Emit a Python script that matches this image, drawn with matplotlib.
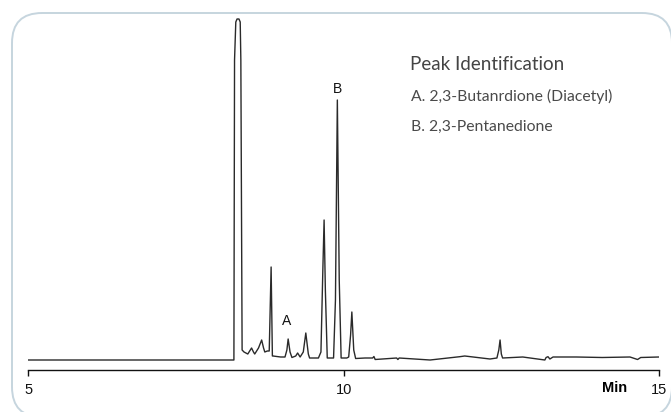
import matplotlib
matplotlib.use("Agg")
import matplotlib.pyplot as plt
from matplotlib.patches import FancyBboxPatch
from matplotlib.transforms import IdentityTransform, blended_transform_factory

# chromatogram trace (time in min, signal in arbitrary units)
times = [5.00, 8.26, 8.27, 8.29, 8.31, 8.34, 8.36, 8.37, 8.39, 8.42,
         8.48, 8.51, 8.54, 8.57, 8.59, 8.65, 8.70, 8.73, 8.75, 8.79,
         8.82, 8.85, 8.87, 8.88, 9.00, 9.07, 9.10, 9.12, 9.15, 9.18,
         9.24, 9.27, 9.31, 9.36, 9.40, 9.44, 9.46, 9.60, 9.64, 9.67,
         9.69, 9.71, 9.74, 9.84, 9.87, 9.90, 9.93, 9.96, 10.05, 10.08,
         10.11, 10.13, 10.16, 10.19, 10.34, 10.46, 10.48, 10.50, 10.84, 10.86,
         10.88, 11.37, 11.84, 11.92, 12.32, 12.43, 12.46, 12.48, 12.50, 12.52,
         12.84, 13.19, 13.21, 13.24, 13.27, 13.32, 13.69, 14.10, 14.54, 14.66,
         14.71, 15.00]
signal = [0, 0, 300, 338, 341, 341, 338, 300, 10, 8,
          6, 9, 12, 8, 6, 12, 20, 12, 8, 9,
          9, 93, 4, 4, 3, 3, 10, 21, 8, 2.5,
          4, 7, 3, 8, 27, 6, 2, 2, 8, 90,
          140, 70, 2, 2, 60, 260, 80, 2, 2, 3,
          25, 48, 10, 1.5, 2, 2, 3.5, 0.5, 2, 0.5,
          2, 0, 3.3, 4, 1, 2, 10, 20, 6, 2,
          3, 0, 2.5, 3.3, 1, 3, 3, 2.5, 3, 0.5,
          2.5, 3]

peak_labels = ["A", "B"]
peak_label_x = [9.10, 9.90]
peak_label_y = [39, 271]

legend_title = "Peak Identification"
legend_items = ["A. 2,3-Butanrdione (Diacetyl)", "B. 2,3-Pentanedione"]

xticks = [5, 10, 15]

fig = plt.figure(figsize=(6.71, 4.12), dpi=100)

# rounded frame round the chart (pixel coords, runs off the right and bottom edges)
frame = FancyBboxPatch((12, -5), 660, 404, boxstyle="round,pad=0,rounding_size=30",
                       transform=IdentityTransform(), fill=False,
                       edgecolor="#c6d5de", linewidth=1.4)
fig.patches.append(frame)

ax = fig.add_axes([28.3 / 671, 42 / 412, (659 - 28.3) / 671, 357 / 412])
ax.plot(times, signal, color="#2a2a2a", linewidth=1.0)

ax.set_xlim(5, 15)
ax.set_ylim(-10, 347)
ax.set_facecolor("none")
for side in ["top", "right", "left"]:
    ax.spines[side].set_visible(False)
ax.spines["bottom"].set_linewidth(1.0)
ax.spines["bottom"].set_color("#111111")
ax.set_yticks([])
ax.set_xticks(xticks)
ax.set_xticklabels([str(t) for t in xticks], fontsize=10.5, family="Liberation Sans")
ax.tick_params(axis="x", direction="out", length=4, width=1, pad=5, colors="#111111")

trans = blended_transform_factory(ax.transData, ax.transAxes)
ax.text(14.3, -0.05, "Min", transform=trans, ha="center", va="center",
        fontsize=10.5, fontweight="bold", family="Liberation Sans")

for lab, x, y in zip(peak_labels, peak_label_x, peak_label_y):
    ax.text(x, y, lab, ha="center", va="center", fontsize=10, family="Liberation Sans",
            color="#111111")

fig.text(410 / 671, 1 - 65 / 412, legend_title, ha="left", va="center",
         fontsize=13.5, family="Lato", color="#444444")
for i, item in enumerate(legend_items):
    fig.text(411 / 671, 1 - (96 + 31 * i) / 412, item, ha="left", va="center",
             fontsize=11.3, family="Lato", color="#4a4a4a")

fig.savefig("out.png", dpi=100)
